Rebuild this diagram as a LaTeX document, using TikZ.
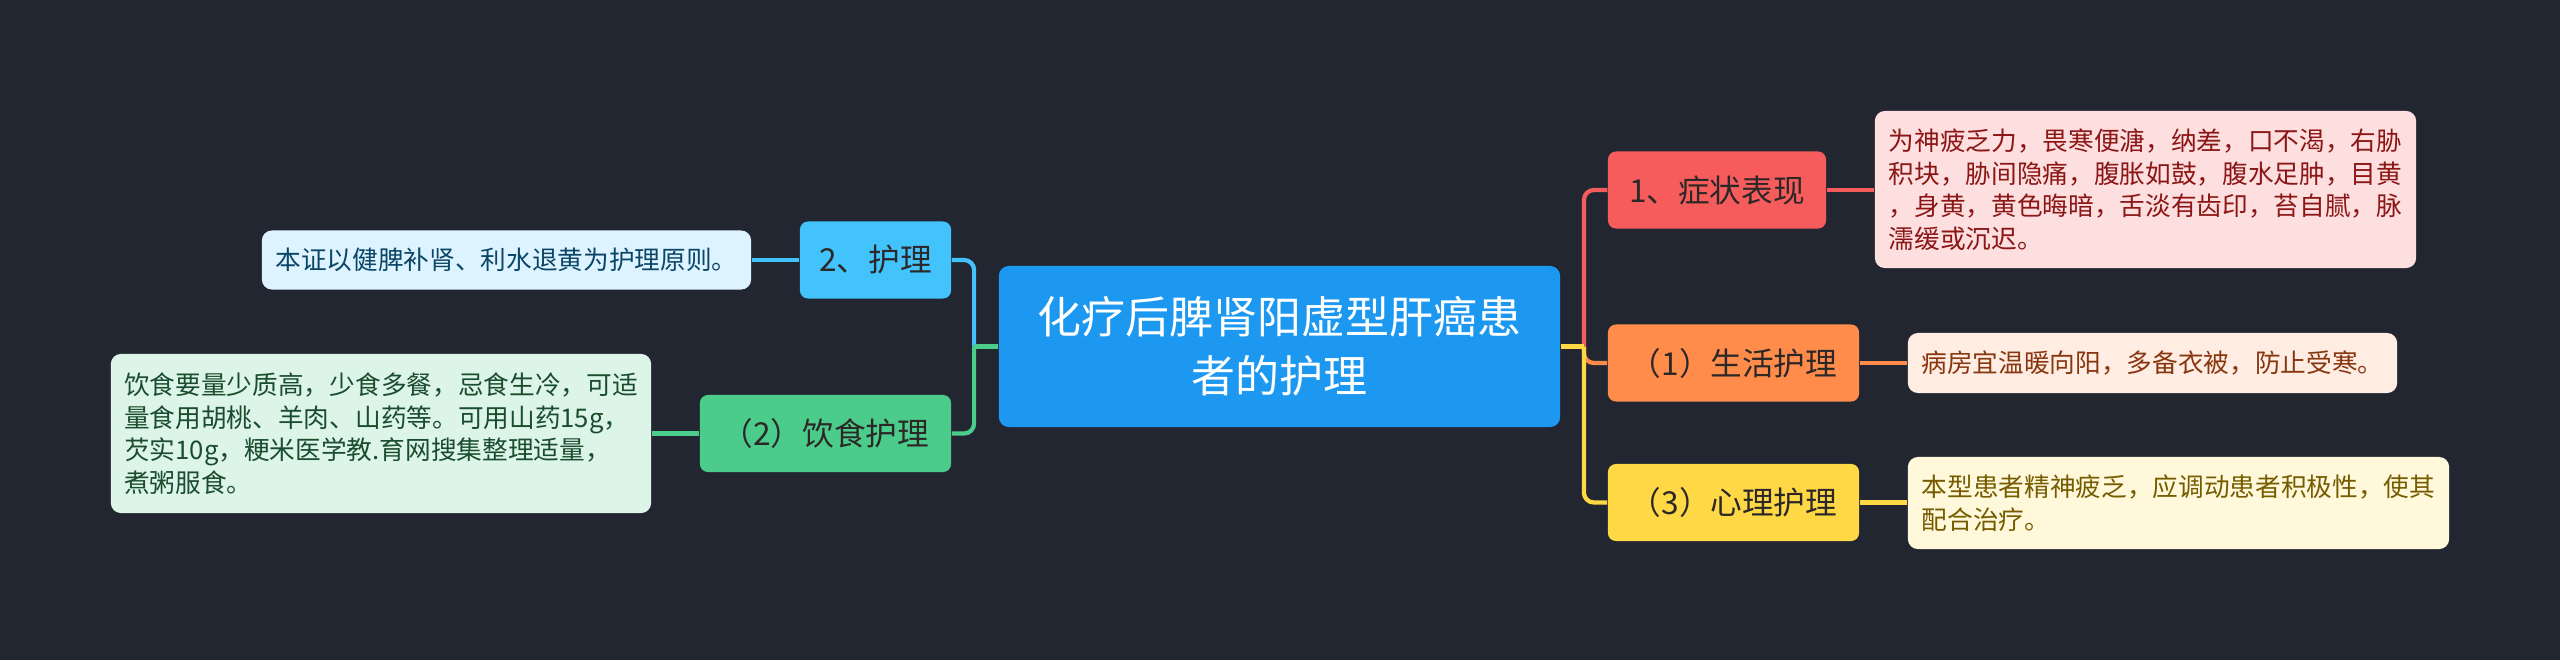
\documentclass[tikz,border=0pt]{standalone}
\usepackage{fontspec}
\newfontfamily\cjk{Noto Sans CJK SC}
\usetikzlibrary{positioning}
\definecolor{mapbg}{RGB}{34,38,49}
\definecolor{rootblue}{RGB}{28,152,240}
\definecolor{symred}{RGB}{247,92,92}
\definecolor{symfill}{RGB}{253,223,223}
\definecolor{symtext}{RGB}{140,22,22}
\definecolor{lifeorange}{RGB}{255,140,74}
\definecolor{lifefill}{RGB}{255,236,226}
\definecolor{lifetext}{RGB}{135,55,15}
\definecolor{mindyellow}{RGB}{255,216,70}
\definecolor{mindfill}{RGB}{255,248,218}
\definecolor{mindtext}{RGB}{118,92,0}
\definecolor{careblue}{RGB}{66,195,252}
\definecolor{carefill}{RGB}{221,243,255}
\definecolor{caretext}{RGB}{12,70,102}
\definecolor{dietgreen}{RGB}{76,204,138}
\definecolor{dietfill}{RGB}{221,245,232}
\definecolor{diettext}{RGB}{26,76,46}
\definecolor{labeltext}{RGB}{45,40,40}

\begin{document}
\begin{tikzpicture}[x=0.01cm,y=-0.01cm,
    rootbox/.style={fill=rootblue,rounded corners=0.1cm,text=white,align=center,
      minimum width=5.61cm,minimum height=1.61cm,inner sep=0pt,
      font=\cjk\fontsize{12.5}{16.8}\selectfont},
    branch/.style={rounded corners=0.08cm,text=labeltext,inner sep=0pt,
      minimum height=0.77cm,font=\cjk\fontsize{9}{11}\selectfont},
    leaf/.style={rounded corners=0.1cm,align=left,inner sep=0pt,
      font=\cjk\fontsize{7.3}{9.25}\selectfont},
    link/.style={line width=1.2pt}]
    % Background
    \fill[mapbg] (0,0) rectangle (2560,660);
    \useasboundingbox (0,0) rectangle (2560,660);

    % Root
    \node[rootbox] (root) at (1279.5,346.5) {化疗后脾肾阳虚型肝癌患\\者的护理};

    % Right branches
    \node[branch,fill=symred,minimum width=2.18cm] (sym) at (1717,190) {1、症状表现};
    \node[branch,fill=lifeorange,minimum width=2.51cm] (life) at (1733.5,363) {（1）生活护理};
    \node[branch,fill=mindyellow,minimum width=2.51cm] (mind) at (1733.5,502.5) {（3）心理护理};

    % Left branches
    \node[branch,fill=careblue,minimum width=1.51cm] (care) at (875.5,260) {2、护理};
    \node[branch,fill=dietgreen,minimum width=2.51cm] (diet) at (825.5,433.5) {（2）饮食护理};

    % Leaves
    \node[leaf,fill=symfill,text=symtext,minimum width=5.41cm,minimum height=1.57cm]
        (symtxt) at (2145.5,189.5) {为神疲乏力，畏寒便溏，纳差，口不渴，右胁\\积块，胁间隐痛，腹胀如鼓，腹水足肿，目黄\\，身黄，黄色晦暗，舌淡有齿印，苔自腻，脉\\濡缓或沉迟。};
    \node[leaf,fill=lifefill,text=lifetext,minimum width=4.89cm,minimum height=0.6cm]
        (lifetxt) at (2152.5,363) {病房宜温暖向阳，多备衣被，防止受寒。};
    \node[leaf,fill=mindfill,text=mindtext,minimum width=5.41cm,minimum height=0.92cm]
        (mindtxt) at (2178.5,503) {本型患者精神疲乏，应调动患者积极性，使其\\配合治疗。};
    \node[leaf,fill=carefill,text=caretext,minimum width=4.89cm,minimum height=0.59cm]
        (caretxt) at (506.5,260) {本证以健脾补肾、利水退黄为护理原则。};
    \node[leaf,fill=dietfill,text=diettext,minimum width=5.40cm,minimum height=1.59cm]
        (diettxt) at (381,433.5) {饮食要量少质高，少食多餐，忌食生冷，可适\\量食用胡桃、羊肉、山药等。可用山药15g，\\芡实10g，粳米医学教.育网搜集整理适量，\\煮粥服食。};

    % Connectors
    \coordinate (rfork) at ([xshift=0.23cm]root.east);
    \coordinate (lfork) at ([xshift=-0.24cm]root.west);
    \draw[symred,link] (root.east) -- (rfork);
    \draw[symred,link,rounded corners=0.1cm] (rfork) |- (sym.west);
    \draw[lifeorange,link] (root.east) -- (rfork);
    \draw[lifeorange,link,rounded corners=0.1cm] (rfork) |- (life.west);
    \draw[mindyellow,link] (root.east) -- (rfork);
    \draw[mindyellow,link,rounded corners=0.1cm] (rfork) |- (mind.west);
    \draw[careblue,link] (root.west) -- (lfork);
    \draw[careblue,link,rounded corners=0.1cm] (lfork) |- (care.east);
    \draw[dietgreen,link] (root.west) -- (lfork);
    \draw[dietgreen,link,rounded corners=0.1cm] (lfork) |- (diet.east);

    \draw[symred,link] (sym.east) -- (sym.east -| symtxt.west);
    \draw[lifeorange,link] (life.east) -- (life.east -| lifetxt.west);
    \draw[mindyellow,link] (mind.east) -- (mind.east -| mindtxt.west);
    \draw[careblue,link] (care.west) -- (care.west -| caretxt.east);
    \draw[dietgreen,link] (diet.west) -- (diet.west -| diettxt.east);
\end{tikzpicture}
\end{document}
